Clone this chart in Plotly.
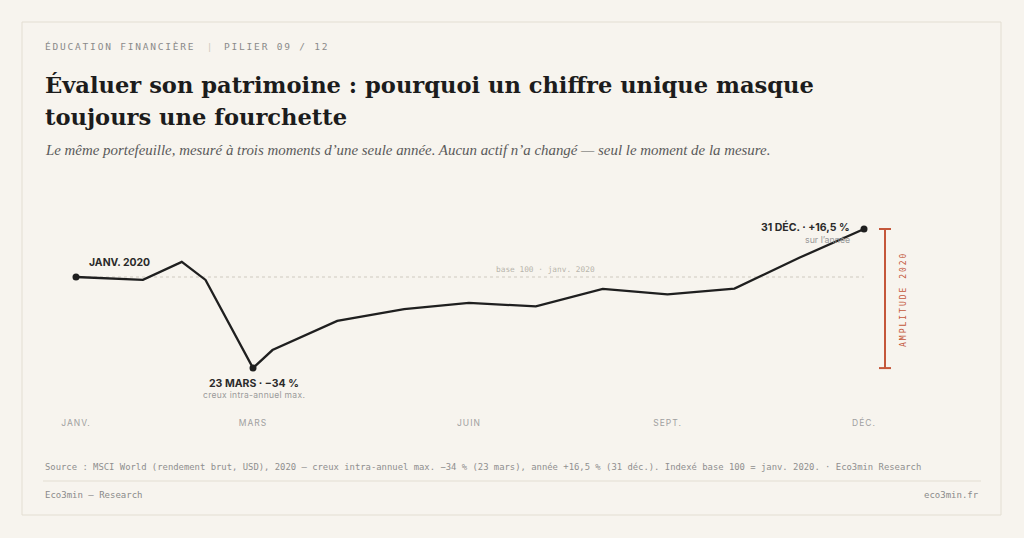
import plotly.graph_objects as go

# MSCI World 2020, indexé base 100 = janv. 2020
dates = ["2020-01-01", "2020-02-01", "2020-02-19", "2020-03-01", "2020-03-23",
         "2020-04-01", "2020-05-01", "2020-06-01", "2020-07-01", "2020-08-01",
         "2020-09-01", "2020-10-01", "2020-11-01", "2020-12-01", "2020-12-31"]
index_values = [100.0, 99.0, 105.2, 99.0, 68.7, 74.9, 84.9, 89.0, 91.1, 89.9,
                95.9, 94.0, 96.0, 106.6, 116.5]
key_points = [0, 4, 14]  # janv., creux du 23 mars, 31 déc.
base_value = 100

tick_dates = ["2020-01-01", "2020-03-23", "2020-07-01", "2020-10-01", "2020-12-31"]
tick_labels = ["JANV.", "MARS", "JUIN", "SEPT.", "DÉC."]

# page geometry (pixels)
W, H = 1024, 538
L, R, T, B = 76, 864, 200, 410

BG = "#f7f4ee"
INK = "#1f1f1f"
RUST = "#c4573a"
MONO = "DejaVu Sans Mono"
SANS = "Inter"
SERIF = "Liberation Serif"
TITLE_SERIF = "DejaVu Serif"


def px(x):
    return (x - L) / (R - L)


def py(y):
    return (B - y) / (B - T)


def spaced(text, ls):
    return f'<span style="letter-spacing:{ls}px">{text}</span>'


fig = go.Figure()

fig.add_trace(go.Scatter(
    x=dates, y=index_values, mode="lines", cliponaxis=False,
    line=dict(color=INK, width=2.3), hoverinfo="skip", showlegend=False,
))
fig.add_trace(go.Scatter(
    x=[dates[i] for i in key_points], y=[index_values[i] for i in key_points],
    mode="markers", cliponaxis=False,
    marker=dict(color=INK, size=7), hoverinfo="skip", showlegend=False,
))

shapes = [
    # card frame
    dict(type="rect", xref="paper", yref="paper", x0=px(22), x1=px(1001), y0=py(515), y1=py(22),
         line=dict(color="#e3ded2", width=1), fillcolor="rgba(0,0,0,0)", layer="below"),
    # base 100 dotted line
    dict(type="line", xref="x", yref="y", x0=dates[0], x1=dates[-1], y0=base_value, y1=base_value,
         line=dict(color="#cfcac0", width=1.2, dash="dot"), layer="below"),
    # amplitude bar
    dict(type="line", xref="paper", yref="y", x0=px(885), x1=px(885),
         y0=min(index_values), y1=max(index_values), line=dict(color=RUST, width=2)),
    dict(type="line", xref="paper", yref="y", x0=px(879), x1=px(891),
         y0=min(index_values), y1=min(index_values), line=dict(color=RUST, width=2)),
    dict(type="line", xref="paper", yref="y", x0=px(879), x1=px(891),
         y0=max(index_values), y1=max(index_values), line=dict(color=RUST, width=2)),
    # footer divider
    dict(type="line", xref="paper", yref="paper", x0=px(43), x1=px(981), y0=py(481), y1=py(481),
         line=dict(color="#e3ded2", width=1)),
]


def note(text, x, y, size, color, family, xanchor="left", weight="normal", style="normal", angle=0):
    return dict(text=text, xref="paper", yref="paper", x=px(x), y=py(y), xanchor=xanchor,
                yanchor="middle", showarrow=False, textangle=angle,
                font=dict(size=size, color=color, family=family, weight=weight, style=style))


annotations = [
    note(spaced("ÉDUCATION FINANCIÈRE", 1.8) + "  <span style='color:#cfcac0'>|</span>  "
         + spaced("PILIER 09 / 12", 1.8), 43, 47, 9.5, "#8a8a8a", MONO),
    note("Évaluer son patrimoine : pourquoi un chiffre unique masque", 43, 85, 22.6, "#1c1c1c",
         TITLE_SERIF, weight=600),
    note("toujours une fourchette", 43, 117, 22.6, "#1c1c1c", TITLE_SERIF, weight=600),
    note("Le même portefeuille, mesuré à trois moments d’une seule année. "
         "Aucun actif n’a changé — seul le moment de la mesure.", 43, 150, 14.9, "#5a5a5a", SERIF,
         style="italic"),
    note("JANV. 2020", 87, 262, 10.4, "#2a2a2a", SANS, weight="bold"),
    note("23 MARS · −34 %", 254, 383, 10.5, "#2a2a2a", SANS, xanchor="center", weight="bold"),
    note(spaced("creux intra-annuel max.", 0.3), 254, 395, 8.5, "#9a9a9a", SANS, xanchor="center"),
    note("31 DÉC. · +16,5 %", 852, 227, 10.5, "#2a2a2a", SANS, xanchor="right", weight="bold"),
    note("sur l’année", 852, 239, 8.8, "#999999", SANS, xanchor="right"),
    note("base 100 · janv. 2020", 545, 269, 7.8, "#b8b4ac", MONO, xanchor="center"),
    note(spaced("AMPLITUDE 2020", 2), 903, 299, 8, RUST, MONO, xanchor="center", angle=-90),
    note("Source : MSCI World (rendement brut, USD), 2020 — creux intra-annuel max. −34 % (23 mars), "
         "année +16,5 % (31 déc.). Indexé base 100 = janv. 2020. · Eco3min Research",
         43, 467, 8.9, "#8f8f8f", MONO),
    note("Eco3min — Research", 43, 495, 9, "#8a8a8a", MONO),
    note("eco3min.fr", 981, 495, 9, "#8a8a8a", MONO, xanchor="right"),
]

fig.update_layout(
    width=W, height=H,
    margin=dict(l=L, r=W - R, t=T, b=H - B),
    paper_bgcolor=BG, plot_bgcolor=BG,
    shapes=shapes, annotations=annotations,
    xaxis=dict(type="date", range=[dates[0], dates[-1]], showgrid=False, zeroline=False,
               showline=False, ticks="", tickvals=tick_dates,
               ticktext=[spaced(t, 1) for t in tick_labels],
               tickfont=dict(family=SANS, size=8.5, color="#a0a0a0"), ticklabelstandoff=6),
    yaxis=dict(range=[54.3, 126.46], visible=False, showgrid=False, zeroline=False),
)

# the page body has an 8px default margin; remove it so the figure fills the window
fig.write_html("out.html", config={"displayModeBar": False},
               post_script="document.body.style.margin='0';document.body.style.background='%s';" % BG)
